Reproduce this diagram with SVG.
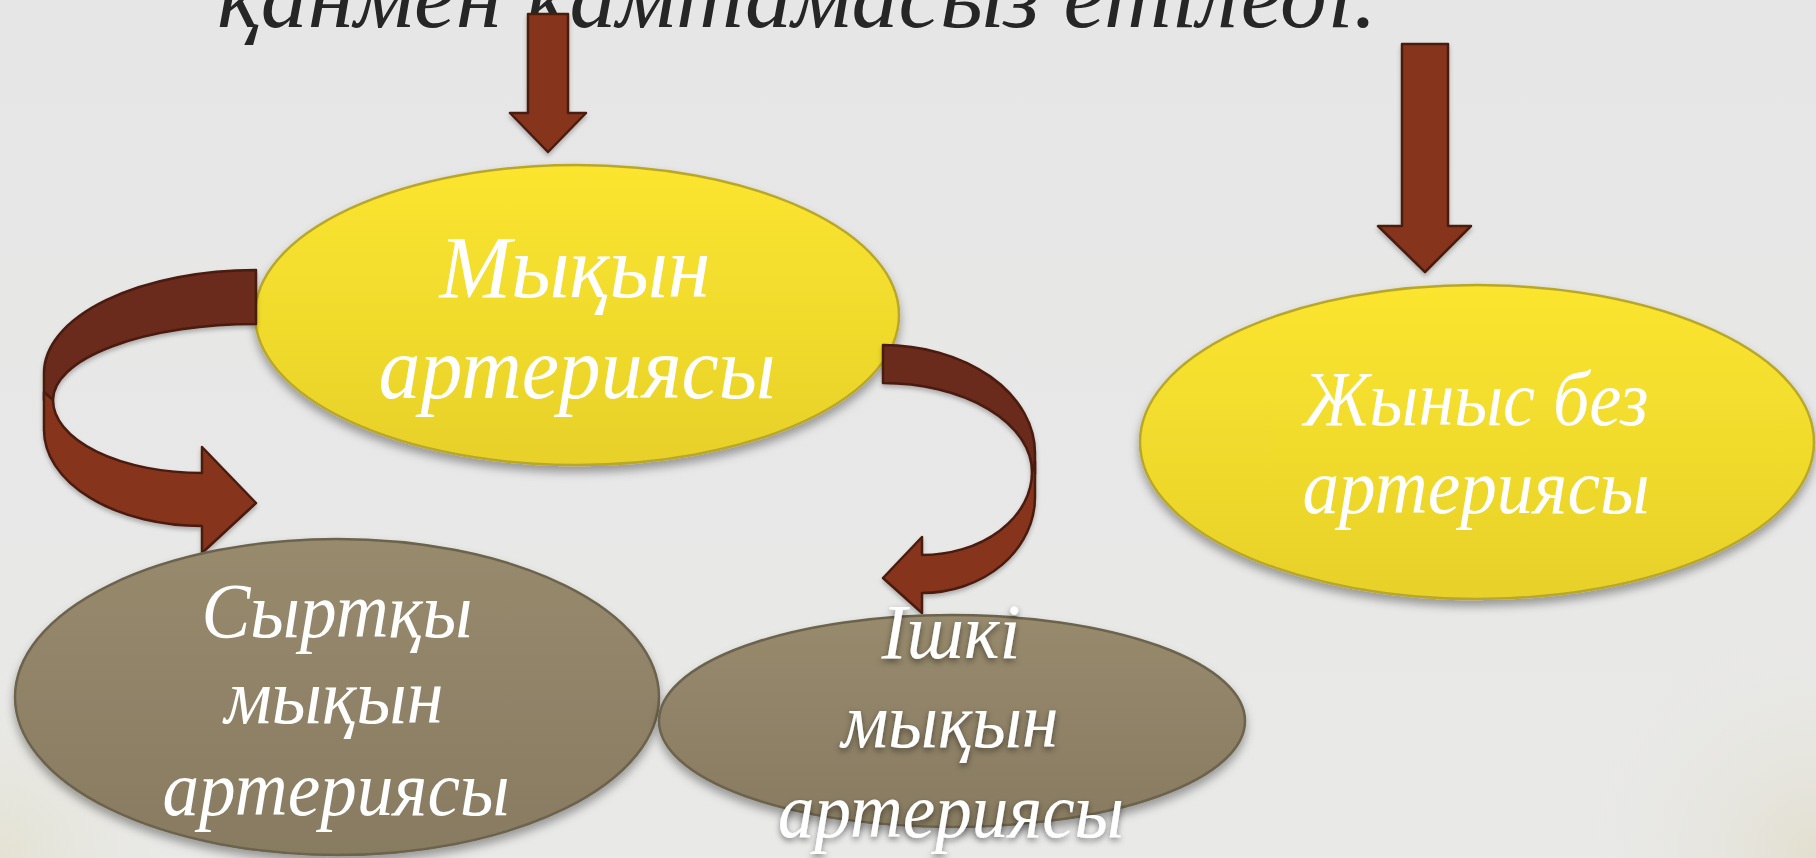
<svg xmlns="http://www.w3.org/2000/svg" width="1816" height="858" viewBox="0 0 1816 858">
<defs>
<linearGradient id="bg" x1="0" y1="0" x2="0" y2="1">
<stop offset="0" stop-color="#e6e6e6"/>
<stop offset="1" stop-color="#e9e9e8"/>
</linearGradient>
<radialGradient id="corner" cx="1816" cy="858" r="260" gradientUnits="userSpaceOnUse">
<stop offset="0" stop-color="#e2dfcf"/>
<stop offset="1" stop-color="#e9e9e8" stop-opacity="0"/>
</radialGradient>
<radialGradient id="corner2" cx="0" cy="858" r="220" gradientUnits="userSpaceOnUse">
<stop offset="0" stop-color="#e4e2d2"/>
<stop offset="1" stop-color="#e9e9e8" stop-opacity="0"/>
</radialGradient>
<linearGradient id="yellow" x1="0" y1="0" x2="0" y2="1">
<stop offset="0" stop-color="#fbe52e"/>
<stop offset="1" stop-color="#e7d12b"/>
</linearGradient>
<linearGradient id="tan" x1="0" y1="0" x2="0" y2="1">
<stop offset="0" stop-color="#978a6d"/>
<stop offset="1" stop-color="#887b61"/>
</linearGradient>
<filter id="shadow" x="-10%" y="-10%" width="120%" height="130%">
<feDropShadow dx="0" dy="6" stdDeviation="5" flood-color="#000" flood-opacity="0.35"/>
</filter>
<filter id="tshadow" x="-10%" y="-20%" width="120%" height="150%">
<feDropShadow dx="0" dy="3" stdDeviation="3" flood-color="#000" flood-opacity="0.45"/>
</filter>
<filter id="ashadow" x="-20%" y="-10%" width="140%" height="130%">
<feDropShadow dx="0" dy="3" stdDeviation="2" flood-color="#000" flood-opacity="0.25"/>
</filter>
</defs>
<style>
.yel{fill:url(#yellow);stroke:#b9a72b;stroke-width:2.5;filter:url(#shadow)}
.tan{fill:url(#tan);stroke:#6c634e;stroke-width:2.5;filter:url(#shadow)}
.lbl{font-family:"Liberation Serif","DejaVu Serif",serif;font-style:italic;fill:#ffffff;text-anchor:middle}
.title{font-family:"Liberation Serif","DejaVu Serif",serif;font-style:italic;fill:#262626}
.arr{fill:#86351f;stroke:#4a1a10;stroke-width:2.5;stroke-linejoin:round}
.arrd{fill:#6a2a1c;stroke:#4a1a10;stroke-width:2.5;stroke-linejoin:round}
</style>
<rect width="1816" height="858" fill="url(#bg)"/>
<rect width="1816" height="858" fill="url(#corner)"/>
<rect width="1816" height="858" fill="url(#corner2)"/>

<g id="title">
<text class="title" x="217" y="27" font-size="92" textLength="1160" lengthAdjust="spacingAndGlyphs">қанмен қамтамасыз етіледі.</text>
</g>

<g id="node-mykyn">
<ellipse class="yel" cx="577" cy="315" rx="322" ry="150"/>
<text class="lbl" x="575" y="297" font-size="88" textLength="271" lengthAdjust="spacingAndGlyphs">Мықын</text>
<text class="lbl" x="577" y="398" font-size="88" textLength="397" lengthAdjust="spacingAndGlyphs">артериясы</text>
</g>

<g id="node-zhynys">
<ellipse class="yel" cx="1477" cy="442" rx="337" ry="157"/>
<text class="lbl" x="1476" y="425" font-size="78" textLength="345" lengthAdjust="spacingAndGlyphs">Жыныс без</text>
<text class="lbl" x="1476" y="513" font-size="78" textLength="347" lengthAdjust="spacingAndGlyphs">артериясы</text>
</g>

<g id="connectors" filter="url(#ashadow)">
<path class="arr" d="M528,14 L568,14 L568,113 L586,113 L548,152 L510,113 L528,113 Z"/>
<path class="arr" d="M1402,44 L1448,44 L1448,226 L1471,226 L1425,272 L1378,226 L1402,226 Z"/>
<path class="arrd" d="M256,270 A212,103 0 0 0 44,373 L44,400 L53,400 A203,76 0 0 1 256,324 Z"/>
<path class="arr" d="M44,392 L44,430 A158,96 0 0 0 202,526 L202,553 L256,503 L202,447 L202,473 A149,73 0 0 1 53,400 Z"/>
<path class="arrd" d="M883,345 A152,108 0 0 1 1035,453 L1035,474 L1032,472 A149,89 0 0 0 883,383 Z"/>
<path class="arr" d="M1035,462 L1035,497 A113,96 0 0 1 922,593 L922,613 L883,578 L922,537 L922,555 A110,83 0 0 0 1032,472 Z"/>
</g>

<g id="node-syrtqy">
<ellipse class="tan" cx="337" cy="697" rx="322" ry="158"/>
<text class="lbl" x="337" y="637" font-size="78" textLength="271" lengthAdjust="spacingAndGlyphs">Сыртқы</text>
<text class="lbl" x="334" y="723" font-size="78" textLength="219" lengthAdjust="spacingAndGlyphs">мықын</text>
<text class="lbl" x="336" y="815" font-size="78" textLength="347" lengthAdjust="spacingAndGlyphs">артериясы</text>
</g>

<g id="node-ishki">
<ellipse class="tan" cx="952" cy="721" rx="293" ry="106"/>
<g filter="url(#tshadow)">
<text class="lbl" x="951" y="658" font-size="78" textLength="139" lengthAdjust="spacingAndGlyphs">Ішкі</text>
<text class="lbl" x="950" y="747" font-size="78" textLength="217" lengthAdjust="spacingAndGlyphs">мықын</text>
<text class="lbl" x="951" y="837" font-size="78" textLength="346" lengthAdjust="spacingAndGlyphs">артериясы</text>
</g>
</g>
</svg>
